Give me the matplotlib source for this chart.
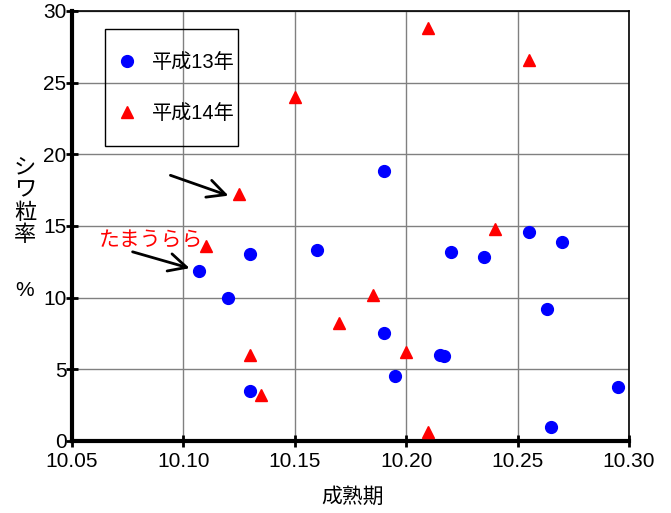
import numpy as np
import matplotlib
matplotlib.use("Agg")
import matplotlib.pyplot as plt
from matplotlib.patches import Rectangle

# font: latin first, CJK fallback
plt.rcParams['font.family'] = ['Liberation Sans', 'Noto Sans CJK JP']

# 平成13年 (blue circles)
h13_x = [10.107, 10.120, 10.130, 10.130, 10.160, 10.190, 10.190, 10.195, 10.215,
         10.217, 10.220, 10.235, 10.255, 10.270, 10.263, 10.265, 10.295]
h13_y = [11.85, 10.0, 13.05, 3.5, 13.35, 18.85, 7.5, 4.5, 6.0,
         5.9, 13.2, 12.85, 14.55, 13.85, 9.2, 1.0, 3.8]

# 平成14年 (red triangles)
h14_x = [10.110, 10.125, 10.150, 10.130, 10.135, 10.170, 10.185, 10.200,
         10.210, 10.210, 10.240, 10.255]
h14_y = [13.6, 17.2, 24.0, 6.0, 3.2, 8.2, 10.2, 6.2, 0.6, 28.8, 14.8, 26.6]

x_ticks = [10.05, 10.10, 10.15, 10.20, 10.25, 10.30]
x_ticklabels = ['10.05', '10.10', '10.15', '10.20', '10.25', '10.30']
y_ticks = [0, 5, 10, 15, 20, 25, 30]

fig = plt.figure(figsize=(6.71, 5.13), dpi=100)
ax = fig.add_axes([0.1073, 0.1404, 0.8301, 0.8382])

ax.grid(True, color='#808080', linewidth=1.0)
ax.set_axisbelow(True)

ax.plot(h13_x, h13_y, 'o', color='#0000ff', markersize=8.5, label='平成13年', zorder=3)
ax.plot(h14_x, h14_y, '^', color='#ff0000', markersize=8.5, label='平成14年', zorder=3)

ax.set_xlim(10.05, 10.30)
ax.set_ylim(0, 30)
ax.set_xticks(x_ticks)
ax.set_xticklabels(x_ticklabels)
ax.set_yticks(y_ticks)
ax.tick_params(axis='both', labelsize=15, direction='inout', length=8, width=2)
ax.tick_params(axis='x', pad=4)
ax.tick_params(axis='y', pad=0)

ax.spines['left'].set_linewidth(3)
ax.spines['bottom'].set_linewidth(3)
ax.spines['top'].set_linewidth(1.2)
ax.spines['right'].set_linewidth(1.2)

# annotation arrows
ax.annotate('', xy=(10.1214, 17.05), xytext=(10.093, 18.6),
            arrowprops=dict(arrowstyle='->', color='black', lw=2, mutation_scale=32))
ax.annotate('', xy=(10.1040, 12.0), xytext=(10.076, 13.25),
            arrowprops=dict(arrowstyle='->', color='black', lw=2, mutation_scale=32))
ax.text(10.062, 13.95, 'たまうらら', color='#ff0000', fontsize=15,
        ha='left', va='center')

# legend with a hand-placed square frame
leg = ax.legend(loc='center left', bbox_to_anchor=(0.0898, 0.821), frameon=False,
                fontsize=14.5, numpoints=1, handlelength=0.5, handletextpad=1.0,
                labelspacing=1.6, borderpad=0, borderaxespad=0)
ax.add_patch(Rectangle((0.0592, 0.686), 0.2388, 0.272, transform=ax.transAxes,
                       fill=False, edgecolor='black', linewidth=1.0, zorder=4))

# axis labels
fig.text(25 / 671, 1 - 202 / 513, 'シ\nワ\n粒\n率', fontsize=16, ha='center',
         va='center', linespacing=1.1)
fig.text(25 / 671, 1 - 291 / 513, '%', fontsize=15, ha='center', va='center')
fig.text(353 / 671, 1 - 497 / 513, '成熟期', fontsize=15, ha='center', va='center')

fig.savefig('out.png', dpi=100)
